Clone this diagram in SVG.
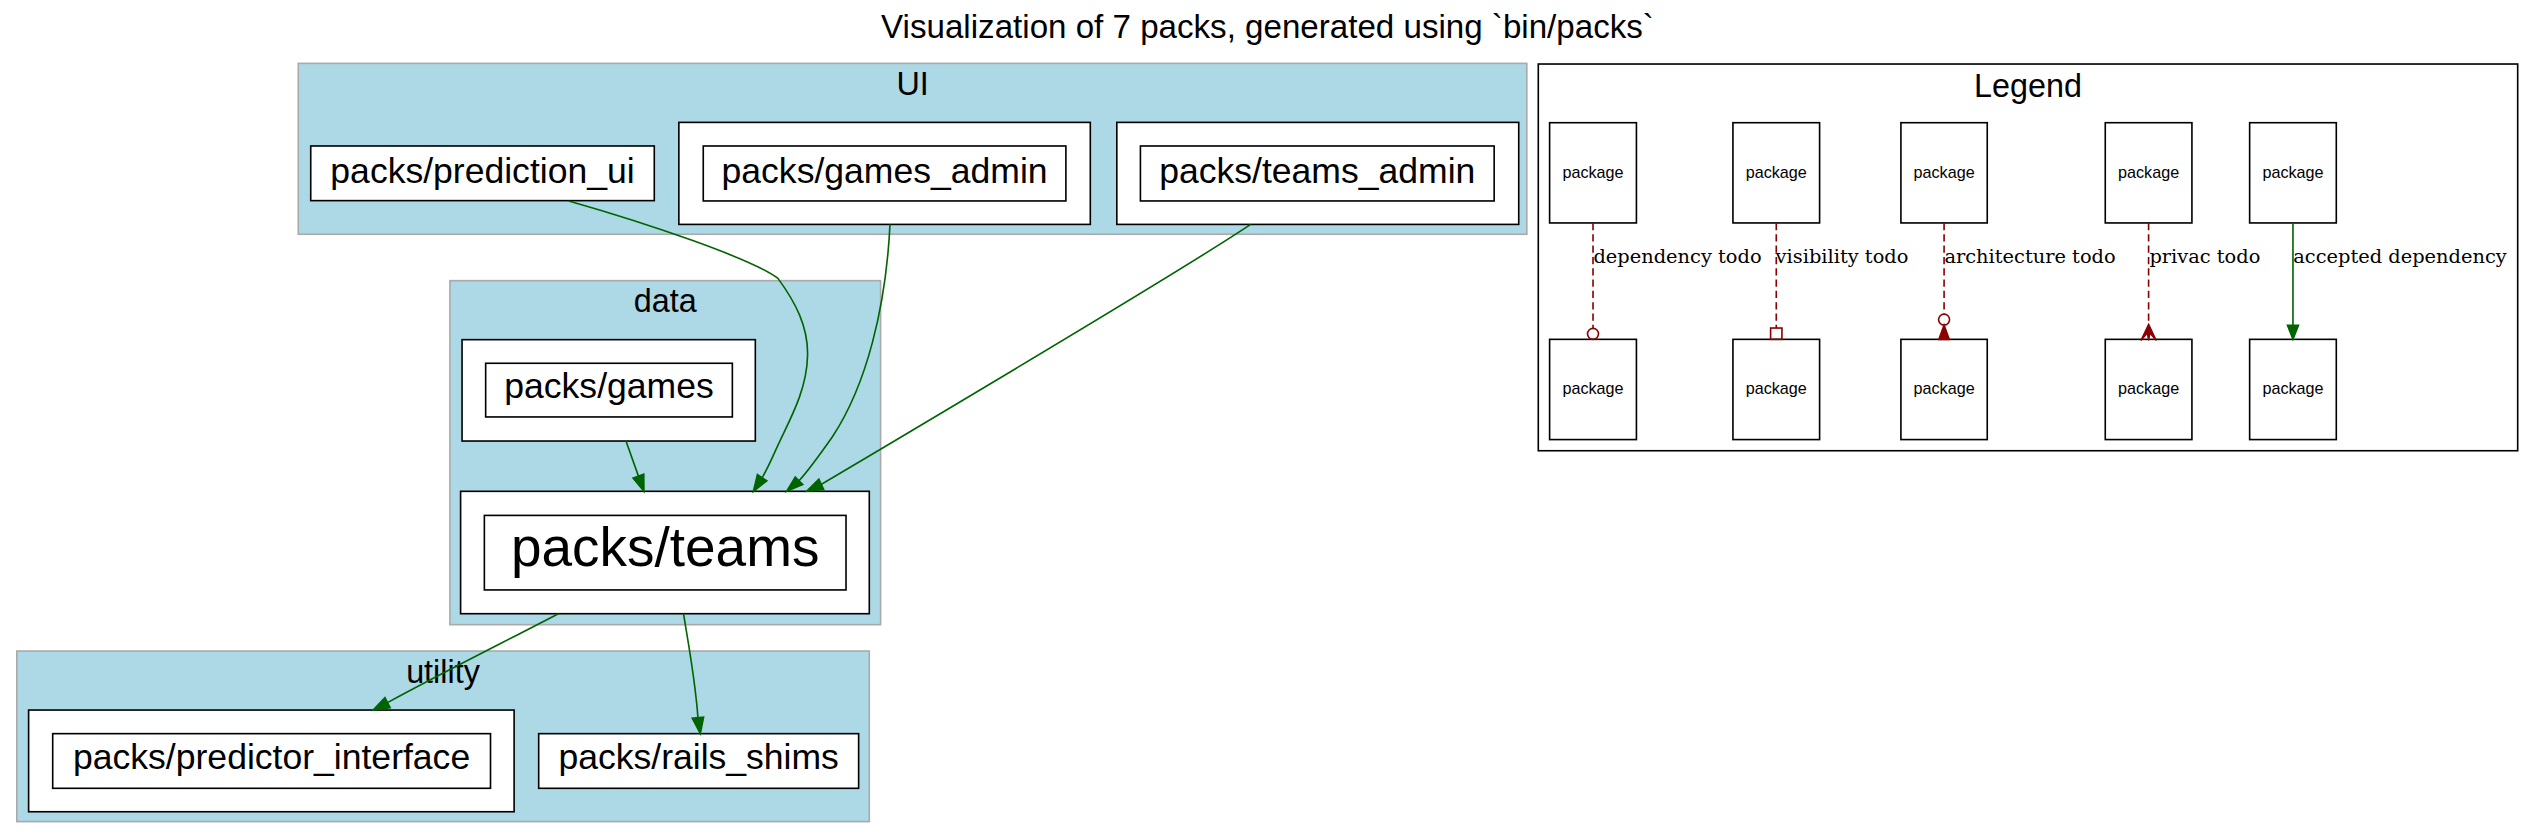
<svg xmlns="http://www.w3.org/2000/svg" width="2535" height="839" viewBox="0 0 2535 839">
<style>
.bg{fill:#ffffff}
.cl{fill:#add8e6;stroke:#aaaaaa;stroke-width:1}
.lg{fill:#ffffff;stroke:#000000;stroke-width:1}
.box{fill:#ffffff;stroke:#000000;stroke-width:1}
.t{font-family:"Liberation Sans",Arial,sans-serif;fill:#000000;text-anchor:middle}
.n22{font-size:22px}
.c20{font-size:20px}
.pk{font-size:10px}
.el{font-family:"DejaVu Serif",serif;font-size:12px;fill:#000000}
.dep{fill:none;stroke:#006400;stroke-width:1}
.todo{fill:none;stroke:#8b0000;stroke-width:1;stroke-dasharray:4.5,2.5}
.ahg{fill:#006400;stroke:#006400;stroke-width:1}
.ahr{fill:#8b0000;stroke:#8b0000;stroke-width:1}
.ahro{fill:none;stroke:#8b0000;stroke-width:1}
</style>
<rect class="bg" x="0" y="0" width="2535" height="839"/>
<g transform="scale(1.6167)">
  <text class="t" x="784" y="23.3" style="font-size:20.5px">Visualization of 7 packs, generated using `bin/packs`</text>

  <g id="cluster_UI">
    <rect class="cl" x="184.5" y="39.2" width="759.9" height="105.7"/>
    <text class="t c20" x="564.5" y="58.8">UI</text>
  </g>
  <g id="cluster_data">
    <rect class="cl" x="278.3" y="173.6" width="266.4" height="212.8"/>
    <text class="t c20" x="411.5" y="193.2">data</text>
  </g>
  <g id="cluster_utility">
    <rect class="cl" x="10.4" y="402.7" width="527.3" height="105.5"/>
    <text class="t c20" x="274" y="422.7">utility</text>
  </g>
  <g id="cluster_legend">
    <rect class="lg" x="951.5" y="39.6" width="605.8" height="239.2"/>
    <text class="t c20" x="1254.4" y="59.8">Legend</text>
  </g>

  <g id="node_prediction_ui">
    <rect class="box" x="192.2" y="90.3" width="212.5" height="33.8"/>
    <text class="t n22" x="298.45" y="113">packs/prediction_ui</text>
  </g>
  <g id="node_games_admin">
    <rect class="box" x="419.9" y="75.7" width="254.5" height="63.1"/>
    <rect class="box" x="435" y="90.3" width="224.3" height="34"/>
    <text class="t n22" x="547.15" y="113">packs/games_admin</text>
  </g>
  <g id="node_teams_admin">
    <rect class="box" x="690.8" y="75.7" width="248.6" height="63.1"/>
    <rect class="box" x="705.4" y="90.3" width="218.8" height="34"/>
    <text class="t n22" x="814.8" y="113">packs/teams_admin</text>
  </g>
  <g id="node_games">
    <rect class="box" x="285.8" y="210.1" width="181.4" height="62.7"/>
    <rect class="box" x="300.4" y="224.7" width="152.6" height="33.2"/>
    <text class="t n22" x="376.7" y="246.4">packs/games</text>
  </g>
  <g id="node_teams">
    <rect class="box" x="284.9" y="303.9" width="252.8" height="75.7"/>
    <rect class="box" x="299.6" y="318.8" width="223.7" height="46.1"/>
    <text class="t" x="411.45" y="350.1" style="font-size:34px">packs/teams</text>
  </g>
  <g id="node_predictor_interface">
    <rect class="box" x="17.7" y="439.2" width="300.3" height="62.9"/>
    <rect class="box" x="32.6" y="453.8" width="270.8" height="33.8"/>
    <text class="t n22" x="168" y="475.9">packs/predictor_interface</text>
  </g>
  <g id="node_rails_shims">
    <rect class="box" x="333.2" y="453.8" width="197.9" height="33.8"/>
    <text class="t n22" x="432.15" y="475.9">packs/rails_shims</text>
  </g>

  <g id="legend_nodes">
    <g id="lg_a1"><rect class="box" x="958.5" y="75.9" width="53.7" height="62"/><text class="t pk" x="985.35" y="109.9">package</text></g>
    <g id="lg_b1"><rect class="box" x="958.5" y="209.9" width="53.7" height="62"/><text class="t pk" x="985.35" y="243.9">package</text></g>
    <g id="lg_a2"><rect class="box" x="1071.9" y="75.9" width="53.6" height="62"/><text class="t pk" x="1098.7" y="109.9">package</text></g>
    <g id="lg_b2"><rect class="box" x="1071.9" y="209.9" width="53.6" height="62"/><text class="t pk" x="1098.7" y="243.9">package</text></g>
    <g id="lg_a3"><rect class="box" x="1175.8" y="75.9" width="53.4" height="62"/><text class="t pk" x="1202.5" y="109.9">package</text></g>
    <g id="lg_b3"><rect class="box" x="1175.8" y="209.9" width="53.4" height="62"/><text class="t pk" x="1202.5" y="243.9">package</text></g>
    <g id="lg_a4"><rect class="box" x="1302.2" y="75.9" width="53.6" height="62"/><text class="t pk" x="1329" y="109.9">package</text></g>
    <g id="lg_b4"><rect class="box" x="1302.2" y="209.9" width="53.6" height="62"/><text class="t pk" x="1329" y="243.9">package</text></g>
    <g id="lg_a5"><rect class="box" x="1391.5" y="75.9" width="53.6" height="62"/><text class="t pk" x="1418.3" y="109.9">package</text></g>
    <g id="lg_b5"><rect class="box" x="1391.5" y="209.9" width="53.6" height="62"/><text class="t pk" x="1418.3" y="243.9">package</text></g>
  </g>

  <g id="connectors">
    <path class="dep" d="M351.8,124.3 C400,138 465,160 481.2,172.2 C492,187 500,202 499.5,220 C499,243 487,262 480,278 C476,287 473.5,292 471.4,295.5"/>
    <polygon class="ahg" points="474.3,297.4 466,303.9 468.5,293.6"/>
    <path class="dep" d="M550.5,138.8 C548,190 536,238 515,270 C508,280 501,290 494.2,297.4"/>
    <polygon class="ahg" points="496.5,299.7 486.6,303.9 491.9,295.1"/>
    <path class="dep" d="M773.6,138.8 C730,168 600,245 508,299.6"/>
    <polygon class="ahg" points="509.5,302.8 499,303.9 506.5,296.4"/>
    <path class="dep" d="M387.2,272.8 L394.9,294.5"/>
    <polygon class="ahg" points="398.2,293.3 398.3,303.9 391.6,295.7"/>
    <path class="dep" d="M345.4,379.6 C310,398 270,418 239.7,434.6"/>
    <polygon class="ahg" points="241.3,437.7 230.8,439.2 238.1,431.5"/>
    <path class="dep" d="M422.8,379.6 C426,400 430,420 431.7,443.9"/>
    <polygon class="ahg" points="435.2,443.6 433.2,453.8 428.2,444.2"/>

    <path class="todo" d="M985.35,137.9 L985.35,203.1"/>
    <circle class="ahro" cx="985.35" cy="206.5" r="3.4"/>
    <text class="el" x="985.6" y="162.9">dependency todo</text>

    <path class="todo" d="M1098.7,137.9 L1098.7,202.9"/>
    <rect class="ahro" x="1095.2" y="202.9" width="7" height="7"/>
    <text class="el" x="1098.3" y="162.9">visibility todo</text>

    <path class="todo" d="M1202.5,137.9 L1202.5,194.3"/>
    <circle class="ahro" cx="1202.5" cy="197.7" r="3.4"/>
    <polygon class="ahr" points="1199.3,209.9 1202.5,201.1 1205.7,209.9"/>
    <text class="el" x="1202.7" y="162.9">architecture todo</text>

    <path class="todo" d="M1329,137.9 L1329,202"/>
    <polygon class="ahr" points="1329,200.5 1333.8,210.6 1329.8,206.2 1329,210.6 1328.2,206.2 1324.2,210.6" style="stroke-width:0.8"/>
    <text class="el" x="1329.5" y="162.9">privac todo</text>

    <path class="dep" d="M1418.3,137.9 L1418.3,201.2"/>
    <polygon class="ahg" points="1414.9,201.2 1418.3,209.9 1421.7,201.2"/>
    <text class="el" x="1418.5" y="162.9">accepted dependency</text>
  </g>
</g>
</svg>
